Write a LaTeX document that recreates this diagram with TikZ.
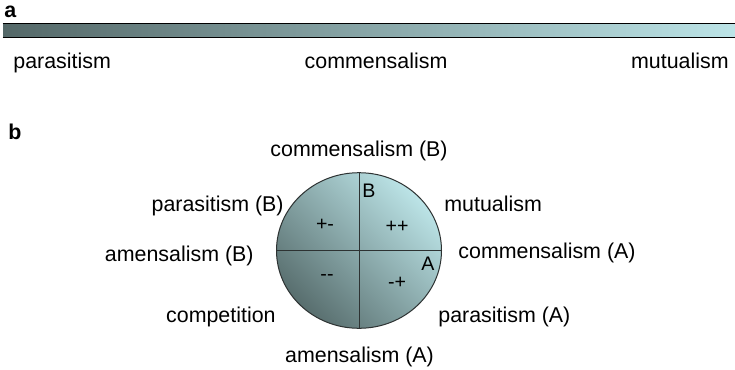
\documentclass[tikz,border=0pt]{standalone}
\usepackage{fontspec}
\setsansfont{Liberation Sans}
\usepackage{tikz}
\usetikzlibrary{shapes.geometric,positioning}
\usepackage{xcolor}
\definecolor{slatedark}{RGB}{84,104,104}
\definecolor{slatelight}{RGB}{188,228,231}
\definecolor{diskdark}{RGB}{88,110,110}
\definecolor{rimgray}{RGB}{45,50,50}

\begin{document}
\begin{tikzpicture}[
  x=0.5pt,y=-0.5pt,
  lbl/.style={font=\sffamily\fontsize{10.7}{12}\selectfont,inner sep=0pt},
  sgn/.style={font=\sffamily\fontsize{9.8}{11}\selectfont,inner sep=0pt},
  panel/.style={font=\sffamily\bfseries\fontsize{10.7}{12}\selectfont,inner sep=0pt},
  bar/.style={rectangle,inner sep=0pt,minimum width=366pt,minimum height=6.5pt,
              left color=slatedark,right color=slatelight},
  disk/.style={ellipse,draw=rimgray,line width=0.5pt,inner sep=0pt,
               minimum width=82.5pt,minimum height=77.8pt,
               left color=slatelight,right color=diskdark,shading angle=-45},
  rim/.style={line width=0.7pt,draw=black},
  div/.style={line width=0.5pt,draw=rimgray},
]
\useasboundingbox (0,0) rectangle (735,370);

% panel a: the continuum bar
\node[panel,anchor=base west] (pa) at (4,17) {a};
\node[bar] (grad) at (369,30.5) {};
\draw[rim] (grad.north west) -- (grad.north east);
\draw[rim] (grad.south west) -- (grad.south east);

\node[lbl,anchor=base west] (gpar) at (13,68) {parasitism};
\node[lbl,anchor=base] (gcom) at (376,68) {commensalism};
\node[lbl,anchor=base east] (gmut) at (729,68) {mutualism};

% panel b: the interaction disk
\node[panel,anchor=base west] (pb) at (8,139) {b};
\node[disk] (wheel) at (359,250.5) {};
\draw[div] (wheel.north) -- (wheel.south);
\draw[div] (wheel.west) -- (wheel.east);

\node[sgn] (sB) at (369,191) {B};
\node[sgn] (sA) at (428,264) {A};
\node[sgn] (pm) at (325,225) {+-};
\node[sgn] (pp) at (397,227) {++};
\node[sgn] (mm) at (327,278) {{-}{-}};
\node[sgn] (mp) at (397,283) {-+};

\node[lbl,anchor=base] (comB) at (359,156) {commensalism (B)};
\node[lbl,anchor=base east] (parB) at (284,211) {parasitism (B)};
\node[lbl,anchor=base west] (mut) at (444,211) {mutualism};
\node[lbl,anchor=base east] (amB) at (254,261) {amensalism (B)};
\node[lbl,anchor=base west] (comA) at (458,258) {commensalism (A)};
\node[lbl,anchor=base east] (comp) at (276,322) {competition};
\node[lbl,anchor=base west] (parA) at (438,322) {parasitism (A)};
\node[lbl,anchor=base] (amA) at (359.5,362) {amensalism (A)};
\end{tikzpicture}
\end{document}
